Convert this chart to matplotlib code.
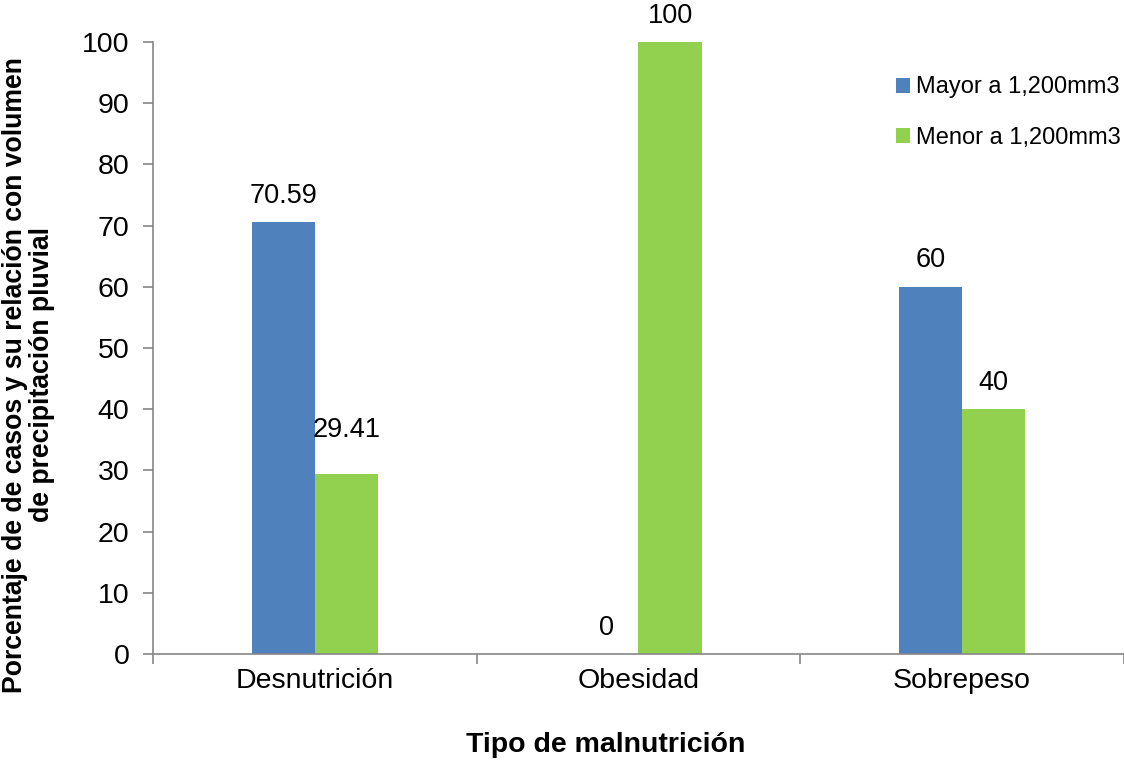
import matplotlib.pyplot as plt
import numpy as np

plt.rcParams['font.family'] = ['Liberation Sans', 'DejaVu Sans']

categorias = ['Desnutrición', 'Obesidad', 'Sobrepeso']
mayor = [70.59, 0, 60]
menor = [29.41, 100, 40]
series = ['Mayor a 1,200mm3', 'Menor a 1,200mm3']
colores = ['#4F81BD', '#92D050']

W, H = 1124, 761
fig = plt.figure(figsize=(W / 100, H / 100), dpi=100)
ax = fig.add_axes([153 / W, 1 - 654 / H, (1124 - 153) / W, (654 - 42) / H])

x = np.arange(len(categorias))
ancho = 0.195
b1 = ax.bar(x - ancho / 2, mayor, ancho, color=colores[0], label=series[0])
b2 = ax.bar(x + ancho / 2, menor, ancho, color=colores[1], label=series[1])

# etiquetas de valor sobre cada barra (29.41 va un poco más arriba)
for barras in (b1, b2):
    for r in barras:
        v = r.get_height()
        off = 32 if v == 29.41 else 19
        ax.annotate(f'{v:g}', (r.get_x() + r.get_width() / 2, v),
                    xytext=(0, off), textcoords='offset points',
                    ha='center', va='center', fontsize=19.5)

ax.set_xlim(-0.5, len(categorias) - 0.5)
ax.set_ylim(0, 100)
ax.set_yticks(range(0, 101, 10))
ax.set_xticks(x)
ax.set_xticklabels(categorias)
ax.set_xticks(np.arange(-0.5, len(categorias), 1), minor=True)

gris = '#868686'
for s in ['top', 'right']:
    ax.spines[s].set_visible(False)
for s in ['left', 'bottom']:
    ax.spines[s].set_color(gris)
    ax.spines[s].set_linewidth(1.2)

ax.tick_params(axis='y', length=7, width=1.2, color=gris, pad=10, labelsize=20.5)
ax.tick_params(axis='x', which='major', length=0, pad=10, labelsize=20.5)
ax.tick_params(axis='x', which='minor', length=7, width=1.2, color=gris)

ax.legend(loc='center left', bbox_to_anchor=(896 / W, 1 - 112.5 / H),
          bbox_transform=fig.transFigure, frameon=False, fontsize=17,
          handlelength=0.6, handleheight=0.6, handletextpad=0.25,
          labelspacing=1.2, borderpad=0, borderaxespad=0)

fig.text(606 / W, 1 - 745 / H, 'Tipo de malnutrición', ha='center', va='center',
         fontsize=20.5, fontweight='bold')
fig.text(29 / W, 1 - 375 / H,
         'Porcentaje de de casos y su relación con volumen\nde precipitación pluvial',
         ha='center', va='center', rotation=90, fontsize=19.2, fontweight='bold',
         multialignment='center', linespacing=1.05)

fig.savefig('out.png', dpi=100)
